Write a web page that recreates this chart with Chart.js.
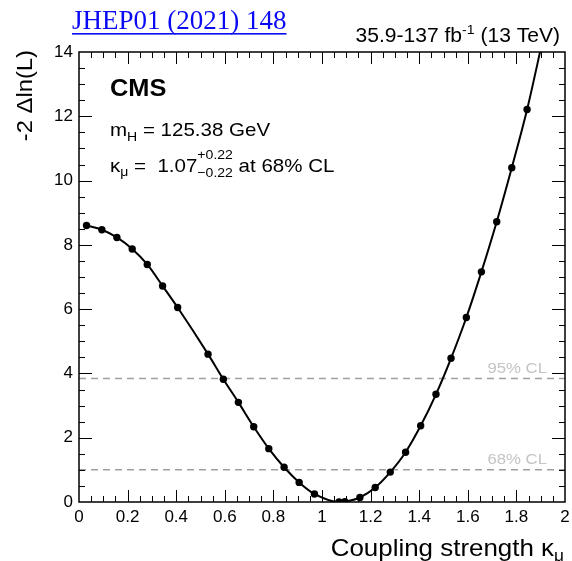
<!DOCTYPE html>
<html>
<head>
<meta charset="utf-8">
<script src="https://cdn.jsdelivr.net/npm/chart.js@4/dist/chart.umd.min.js"></script>
<style>
  html, body { margin: 0; padding: 0; background: #fff; }
  canvas { display: block; }
</style>
</head>
<body>
<canvas id="nllChart" width="572" height="561"></canvas>
<script>
// scan points (last one sits just above the frame, clipped)
const kappaValues = [0.031, 0.094, 0.156, 0.219, 0.281, 0.344, 0.406, 0.531, 0.594, 0.656,
                     0.719, 0.781, 0.844, 0.906, 0.969, 1.07, 1.094, 1.156, 1.219, 1.281,
                     1.344, 1.406, 1.469, 1.531, 1.594, 1.656, 1.719, 1.781, 1.844, 1.906];
const nllValues   = [8.60, 8.47, 8.23, 7.87, 7.39, 6.72, 6.05, 4.60, 3.82, 3.10,
                     2.34, 1.66, 1.08, 0.61, 0.25, 0.00, 0.01, 0.14, 0.45, 0.93,
                     1.55, 2.37, 3.35, 4.47, 5.74, 7.16, 8.72, 10.40, 12.21, 14.30];
const clLevels = [3.84, 1.0];
const clLabels = ['95% CL', '68% CL'];
const xRange = [0, 2];
const yRange = [0, 14];
const xStep = 0.2, yStep = 2;
const xMinorStep = 0.05, yMinorStep = 0.5;

const SANS = '"Liberation Sans", Arial, Helvetica, sans-serif';
const SX = 1.08;   // the reference lettering runs a bit wide

function fontStr(size, bold) {
    return (bold ? 'bold ' : '') + size + 'px ' + SANS;
}

function stretchedText(ctx, s, x, y) {
    ctx.save();
    ctx.translate(x, y);
    ctx.scale(SX, 1);
    ctx.fillText(s, 0, 0);
    ctx.restore();
}

function partWidth(ctx, p) {
    ctx.font = fontStr(p.size, p.bold);
    if (p.stack) {
        return Math.max(ctx.measureText(p.stack[0]).width, ctx.measureText(p.stack[1]).width) * SX;
    }
    return ctx.measureText(p.text).width * SX;
}

function drawRun(ctx, parts, x, y, align) {
    ctx.save();
    ctx.textAlign = 'left';
    ctx.textBaseline = 'alphabetic';
    const total = parts.reduce((s, p) => s + partWidth(ctx, p), 0);
    let cx = align === 'right' ? x - total : x;
    for (const p of parts) {
        const w = partWidth(ctx, p);
        ctx.font = fontStr(p.size, p.bold);
        if (p.stack) {
            stretchedText(ctx, p.stack[0], cx, y + p.dy[0]);
            stretchedText(ctx, p.stack[1], cx, y + p.dy[1]);
        } else {
            stretchedText(ctx, p.text, cx, y + (p.dy || 0));
        }
        cx += w;
    }
    ctx.restore();
}

const frameAndText = {
    id: 'frameAndText',
    afterDatasetsDraw(chart) {
        const ctx = chart.ctx;
        const {left, right, top, bottom} = chart.chartArea;
        const xs = chart.scales.x, ys = chart.scales.y;

        // frame
        ctx.save();
        ctx.strokeStyle = '#000';
        ctx.lineWidth = 1.5;
        ctx.strokeRect(left, top, right - left, bottom - top);

        // ticks on all four sides, pointing inward
        ctx.lineWidth = 1;
        ctx.beginPath();
        const nx = Math.round((xRange[1] - xRange[0]) / xMinorStep);
        for (let i = 1; i < nx; i++) {
            const px = Math.round(xs.getPixelForValue(xRange[0] + i * xMinorStep)) + 0.5;
            const len = i % 4 === 0 ? 12 : 6;
            ctx.moveTo(px, bottom); ctx.lineTo(px, bottom - len);
            ctx.moveTo(px, top);    ctx.lineTo(px, top + len);
        }
        const ny = Math.round((yRange[1] - yRange[0]) / yMinorStep);
        for (let i = 1; i < ny; i++) {
            const py = Math.round(ys.getPixelForValue(yRange[0] + i * yMinorStep)) + 0.5;
            const len = i % 4 === 0 ? 13 : 6;
            ctx.moveTo(left, py);  ctx.lineTo(left + len, py);
            ctx.moveTo(right, py); ctx.lineTo(right - len, py);
        }
        ctx.stroke();
        ctx.restore();

        // CL labels
        ctx.save();
        ctx.fillStyle = '#c4c4c4';
        clLevels.forEach((lvl, i) => {
            const py = ys.getPixelForValue(lvl);
            drawRun(ctx, [{text: clLabels[i], size: 15.5}], 547, py - 6, 'right');
        });
        ctx.restore();

        ctx.save();
        ctx.fillStyle = '#000';
        // CMS label and fit result
        drawRun(ctx, [{text: 'CMS', size: 23.5, bold: true}], 110, 96);
        drawRun(ctx, [
            {text: 'm', size: 19},
            {text: 'H', size: 13, dy: 5},
            {text: ' = 125.38 GeV', size: 19}
        ], 110, 136);
        drawRun(ctx, [
            {text: '\u03BA', size: 19},
            {text: '\u03BC', size: 13, dy: 4},
            {text: ' =  1.07', size: 19},
            {stack: ['+0.22', '\u22120.22'], size: 13, dy: [-13, 5]},
            {text: ' at 68% CL', size: 19}
        ], 110, 172);

        // lumi label
        drawRun(ctx, [
            {text: '35.9-137 fb', size: 19.5},
            {text: '-1', size: 13, dy: -8},
            {text: ' (13 TeV)', size: 19.5}
        ], 560, 42, 'right');

        // axis titles
        drawRun(ctx, [
            {text: 'Coupling strength \u03BA', size: 24},
            {text: '\u03BC', size: 16, dy: 5}
        ], 564, 556, 'right');

        ctx.save();
        ctx.translate(32, 50);
        ctx.rotate(-Math.PI / 2);
        drawRun(ctx, [{text: '-2 \u0394ln(L)', size: 22}], 0, 0, 'right');
        ctx.restore();

        // journal reference
        ctx.font = '27px "Liberation Serif", "DejaVu Serif", serif';
        ctx.fillStyle = '#0a0af5';
        ctx.textAlign = 'left';
        const ref = 'JHEP01 (2021) 148';
        ctx.fillText(ref, 72, 29);
        const w = ctx.measureText(ref).width;
        ctx.fillRect(72, 33, w, 1.6);
        ctx.restore();
    }
};

const curvePoints = kappaValues.map((k, i) => ({x: k, y: nllValues[i]}));

function tickLabel(v) {
    return String(+Number(v).toFixed(1));
}

new Chart(document.getElementById('nllChart').getContext('2d'), {
    type: 'line',
    data: {
        datasets: [
            {
                label: 'scan',
                data: curvePoints,
                borderColor: '#000', backgroundColor: '#000',
                borderWidth: 2,
                cubicInterpolationMode: 'monotone',
                pointRadius: 3.7, pointBorderWidth: 0,
                pointBackgroundColor: '#000',
                clip: 0,
                order: 0,
            },
            ...clLevels.map(lvl => ({
                label: 'CL ' + lvl,
                data: [{x: xRange[0], y: lvl}, {x: xRange[1], y: lvl}],
                borderColor: '#a0a0a0',
                borderWidth: 1.5,
                borderDash: [7, 5],
                pointRadius: 0,
                order: 1,
            }))
        ]
    },
    options: {
        responsive: false,
        animation: false,
        devicePixelRatio: 1,
        layout: { padding: { top: 52, right: 7, left: 0, bottom: 0 } },
        plugins: { legend: { display: false }, tooltip: { enabled: false } },
        scales: {
            x: {
                type: 'linear', min: xRange[0], max: xRange[1],
                grid: { display: false, drawTicks: false },
                border: { display: false },
                ticks: {
                    stepSize: xStep, padding: 5, color: '#000',
                    font: { family: SANS, size: 17 },
                    maxRotation: 0, autoSkip: false,
                    callback: tickLabel,
                },
                afterFit: s => { s.height = 59; s.paddingRight = 0; s.paddingLeft = 0; },
            },
            y: {
                type: 'linear', min: yRange[0], max: yRange[1],
                grid: { display: false, drawTicks: false },
                border: { display: false },
                ticks: {
                    stepSize: yStep, padding: 6, color: '#000',
                    font: { family: SANS, size: 17 },
                    autoSkip: false,
                    callback: tickLabel,
                },
                afterFit: s => { s.width = 79; s.paddingTop = 0; s.paddingBottom = 0; },
            }
        }
    },
    plugins: [frameAndText]
});
</script>
</body>
</html>
